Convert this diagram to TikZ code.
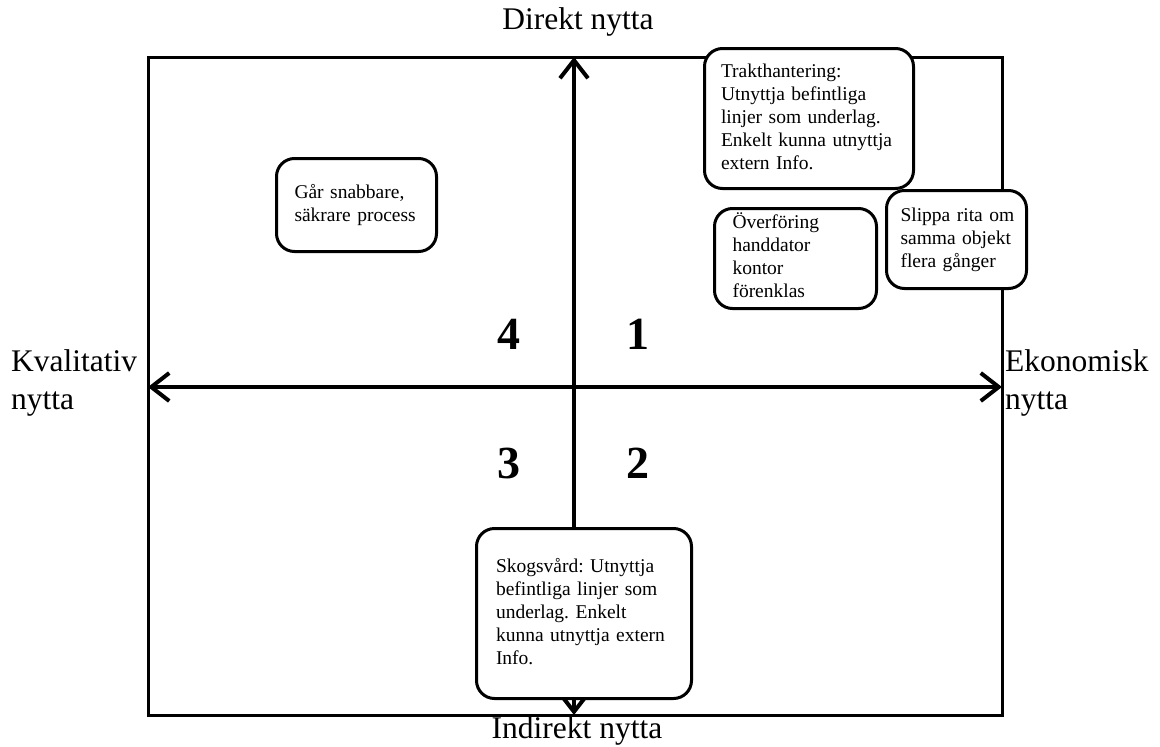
\documentclass[tikz,border=0pt]{standalone}
\usepackage{fontspec}
\setmainfont{Liberation Serif}
\usepackage{tikz}
\usetikzlibrary{arrows.meta,positioning}
\definecolor{QInk}{HTML}{000000}
\definecolor{QPaper}{HTML}{FFFFFF}
\frenchspacing
\newcommand{\lines}[1]{\begin{tabular}{@{}l@{}}#1\end{tabular}}

\tikzset{
  idea/.style={rectangle,rounded corners=18pt,draw=QInk,line width=3pt,fill=QPaper,
               anchor=north west,inner ysep=0pt,align=left,
               font=\fontsize{19.5}{23}\selectfont},
  axis/.style={draw=QInk,line width=4pt,
               {Straight Barb[length=18pt,width=28pt]}-{Straight Barb[length=18pt,width=28pt]}},
  quad/.style={font=\fontsize{46}{46}\selectfont\bfseries},
  pole/.style={font=\fontsize{31.5}{38}\selectfont,align=left,inner sep=0pt},
}

\begin{document}
\begin{tikzpicture}[x=1pt,y=-1pt]
  \useasboundingbox (0,0) rectangle (1160,747);
  % frame and axes
  \draw[QInk,line width=3pt] (148,57) rectangle (1002,715);
  \coordinate (vtop) at (574,57);
  \coordinate (vbot) at (574,715);
  \coordinate (hleft) at (148,387);
  \coordinate (hright) at (1002,387);
  \draw[axis] (vbot) -- (vtop);
  \draw[axis] (hleft) -- (hright);

  % axis labels
  \node[pole,anchor=center] (direkt) at (578,22) {Direkt nytta};
  \node[pole,anchor=center] (indirekt) at (577,731) {Indirekt nytta};
  \node[pole,anchor=west] (kvalitativ) at (11,383) {Kvalitativ\\nytta};
  \node[pole,anchor=west] (ekonomisk) at (1005,383) {Ekonomisk\\nytta};

  % quadrant numbers
  \node[quad] (q4) at (509,334) {4};
  \node[quad] (q1) at (638,334) {1};
  \node[quad] (q3) at (509,463) {3};
  \node[quad] (q2) at (638,463) {2};

  % benefit boxes
  \node[idea,inner xsep=16.5pt,text width=176pt,minimum height=140pt] (trakt) at (703,47)
    {\lines{Trakthantering:\\Utnyttja befintliga\\linjer som underlag.\\Enkelt kunna utnyttja\\extern Info.}};
  \node[idea,inner xsep=18pt,text width=126pt,minimum height=100pt] (overforing) at (713,207)
    {\lines{Överföring\\handdator\\kontor\\förenklas}};
  \node[idea,inner xsep=14pt,text width=112pt,minimum height=98pt] (slippa) at (885,189)
    {\lines{Slippa rita om\\samma objekt\\flera gånger}};
  \node[idea,inner xsep=18pt,text width=124pt,minimum height=93pt] (snabbare) at (275,157)
    {\lines{Går snabbare,\\säkrare process}};
  \node[idea,inner xsep=19.5pt,text width=176pt,minimum height=170pt] (skogsvard) at (475,527)
    {\lines{Skogsvård: Utnyttja\\befintliga linjer som\\underlag. Enkelt\\kunna utnyttja extern\\Info.}};
\end{tikzpicture}
\end{document}
